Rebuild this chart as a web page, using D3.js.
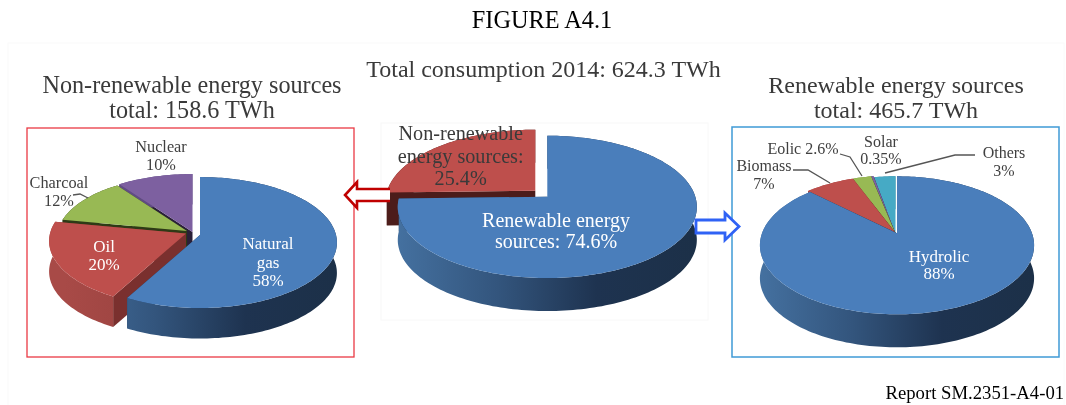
<!DOCTYPE html>
<html>
<head>
<meta charset="utf-8">
<script src="https://cdn.jsdelivr.net/npm/d3@7"></script>
<style>
html, body { margin: 0; background: #fff; }
svg { display: block; filter: blur(0.4px); }
text { font-family: "Liberation Serif", serif; text-anchor: middle; }
</style>
</head>
<body>
<svg width="1066" height="405"></svg>
<script>
// values, clockwise from 12 o'clock
var leftNames = ["Natural gas", "Oil", "Charcoal", "Nuclear"],
    leftValues = [58, 20, 12, 10];
var midNames = ["Renewable", "Non-renewable"],
    midValues = [74.6, 25.4];
var rightNames = ["Hydrolic", "Biomass", "Eolic", "Solar", "Others"],
    rightValues = [88, 7, 2.6, 0.35, 3];

var svg = d3.select("svg"),
    defs = svg.append("defs");

var colors = {
    blue: {top: "#4a7ebb", side: ["#44709f", "#33557d", "#1e3350", "#1c3048"], cut: "#1f3550"},
    red: {top: "#be4f4c", side: ["#a84a47", "#7f3432"], cut: "#7a302e"},
    redDark: {top: "#be4f4c", side: ["#4c1c1a", "#4c1c1a"], cut: "#4c1c1a"},
    green: {top: "#98b954", side: ["#2e3a16", "#2e3a16"], cut: "#2e3a16"},
    greenSide: {top: "#98b954", side: ["#7c9a42", "#64803a"], cut: "#2e3a16"},
    purple: {top: "#7d60a0", side: ["#66508a", "#50406e"], cut: "#2a2038"},
    cyan: {top: "#46aac5", side: ["#3a90a8", "#2c7288"], cut: "#1e5060"}
};

var line = d3.line(), pie = d3.pie().sort(null);

function gradient(id, stops, x0, x1) {
    var g = defs.append("linearGradient").attr("id", id)
        .attr("gradientUnits", "userSpaceOnUse")
        .attr("x1", x0).attr("x2", x1).attr("y1", 0).attr("y2", 0);
    stops.forEach(function(c, i) {
        g.append("stop").attr("offset", i / (stops.length - 1)).attr("stop-color", c);
    });
    return "url(#" + id + ")";
}

// faint panels behind the charts
svg.append("rect").attr("x", 8).attr("y", 43).attr("width", 1056).attr("height", 370)
    .attr("fill", "#fff").attr("stroke", "#fafafa");
svg.append("rect").attr("x", 381).attr("y", 123).attr("width", 327).attr("height", 197)
    .attr("fill", "#fff").attr("stroke", "#f8f8f8");

// one tilted pie: cfg has the centre, radii, perspective and depth
function drawPie(cfg, names, values) {
    var g = svg.append("g");
    var arcs = pie(values);

    function proj(off, angle, r) {
        var x = Math.sin(angle) * r, y = -Math.cos(angle) * r, w = 1 - cfg.persp * y;
        return [cfg.cx + off[0] + cfg.rx * x / w, cfg.cy + off[1] + cfg.ry * y / w];
    }
    function rim(off, d, r) {
        var n = Math.max(2, Math.ceil((d.endAngle - d.startAngle) * 40));
        return d3.range(n + 1).map(function(i) {
            return proj(off, d.startAngle + (d.endAngle - d.startAngle) * i / n, r);
        });
    }
    function down(p) { return [p[0], p[1] + cfg.depth]; }

    cfg.order.forEach(function(i) {
        var d = arcs[i], off = cfg.offsets[i], col = colors[cfg.colors[i]];
        var r = cfg.radius ? cfg.radius[i] : 1;
        var apex = proj(off, 0, 0), pts = rim(off, d, r);
        var first = pts[0], last = pts[pts.length - 1];

        // cut faces
        [first, last].forEach(function(p) {
            g.append("path").attr("fill", col.cut)
                .attr("d", line([apex, p, down(p), down(apex)]) + "Z");
        });
        // outer wall
        var id = "side" + cfg.id + i;
        g.append("path")
            .attr("fill", gradient(id, col.side, cfg.cx - cfg.rx, cfg.cx + cfg.rx))
            .attr("d", line(pts.concat(pts.map(down).reverse())) + "Z");
        // top
        g.append("path").attr("fill", col.top)
            .attr("d", line([apex].concat(pts)) + "Z")
            .append("title").text(names[i] + ": " + values[i] + "%");
    });
}

drawPie({id: "l", cx: 200, cy: 235, rx: 136, ry: 64.6, persp: 0.115, depth: 30.5,
    offsets: [[0, 0], [-14, -1.5], [-13, -4], [-7.5, -3]],
    radius: [1, 1, 0.95, 1],
    colors: ["blue", "red", "green", "purple"], order: [3, 2, 1, 0]}, leftNames, leftValues);

drawPie({id: "m", cx: 547.3, cy: 196.7, rx: 148, ry: 69.7, persp: 0.143, depth: 33,
    offsets: [[0, 0], [-12, -6]],
    colors: ["blue", "redDark"], order: [1, 0]}, midNames, midValues);

drawPie({id: "r", cx: 897, cy: 233.3, rx: 135, ry: 66.9, persp: 0.174, depth: 33,
    offsets: [[0, 0], [-2, -1], [-2, -1], [-2, -1], [-1.5, 0]],
    colors: ["blue", "red", "greenSide", "purple", "cyan"], order: [4, 3, 2, 1, 0]}, rightNames, rightValues);

// frames
svg.append("rect").attr("x", 27).attr("y", 128).attr("width", 327).attr("height", 229)
    .attr("fill", "none").attr("stroke", "#ea3a44").attr("stroke-width", 1.3);
svg.append("rect").attr("x", 732).attr("y", 127).attr("width", 327).attr("height", 230)
    .attr("fill", "none").attr("stroke", "#3f9ad6").attr("stroke-width", 1.5);

// arrows
svg.append("path").attr("fill", "#fff").attr("stroke", "#c00000").attr("stroke-width", 2.6)
    .attr("d", line([[390, 189], [357, 189], [357, 182], [345, 195], [357, 208], [357, 201], [390, 201]]));
svg.append("path").attr("fill", "#fff").attr("stroke", "#2f62f5").attr("stroke-width", 2.8)
    .attr("d", line([[696, 220], [725, 220], [725, 213], [739, 226.5], [725, 240], [725, 233], [696, 233]]) + "Z");

// leader lines
[
    [[73, 195], [80, 194], [88, 198]],
    [[793, 170], [808, 170], [830, 183]],
    [[840, 154], [850, 157], [862, 176]],
    [[975, 155], [955, 155], [885, 173]]
].forEach(function(p) {
    svg.append("path").attr("fill", "none").attr("stroke", "#555").attr("stroke-width", 1.3).attr("d", line(p));
});

// text: string, x, baseline, size, colour
[
    ["FIGURE A4.1", 542, 28, 24.3, "#000"],
    ["Total consumption 2014: 624.3 TWh", 543.5, 77, 24, "#3a3a3a"],
    ["Non-renewable energy sources", 192, 93, 24.2, "#3a3a3a"],
    ["total: 158.6 TWh", 192, 118, 24.2, "#3a3a3a"],
    ["Renewable energy sources", 896, 93, 24, "#3a3a3a"],
    ["total: 465.7 TWh", 896, 118, 24, "#3a3a3a"],
    ["Natural", 268, 249, 17, "#fff"],
    ["gas", 268, 268, 17, "#fff"],
    ["58%", 268, 286, 17, "#fff"],
    ["Oil", 104, 252, 17, "#fff"],
    ["20%", 104, 270, 17, "#fff"],
    ["Charcoal", 59, 188, 16.3, "#404040"],
    ["12%", 59, 206, 16.3, "#404040"],
    ["Nuclear", 161, 152, 16.3, "#404040"],
    ["10%", 161, 170, 16.3, "#404040"],
    ["Non-renewable", 460.7, 140, 20.2, "#3a3a3a"],
    ["energy sources:", 460.7, 163, 20.2, "#3a3a3a"],
    ["25.4%", 460.7, 185, 20.2, "#3a3a3a"],
    ["Renewable energy", 556, 227, 20, "#fff"],
    ["sources: 74.6%", 556, 248, 20, "#fff"],
    ["Hydrolic", 939, 262, 17, "#fff"],
    ["88%", 939, 279, 17, "#fff"],
    ["Biomass", 764, 171, 16, "#404040"],
    ["7%", 764, 189, 16, "#404040"],
    ["Eolic 2.6%", 803, 154, 16, "#404040"],
    ["Solar", 881, 147, 16, "#404040"],
    ["0.35%", 881, 164, 16, "#404040"],
    ["Others", 1004, 158, 16, "#404040"],
    ["3%", 1004, 176, 16, "#404040"],
    ["Report SM.2351-A4-01", 974.8, 399, 18.7, "#000"]
].forEach(function(t) {
    svg.append("text").attr("x", t[1]).attr("y", t[2])
        .attr("font-size", t[3]).attr("fill", t[4]).text(t[0]);
});
</script>
</body>
</html>
